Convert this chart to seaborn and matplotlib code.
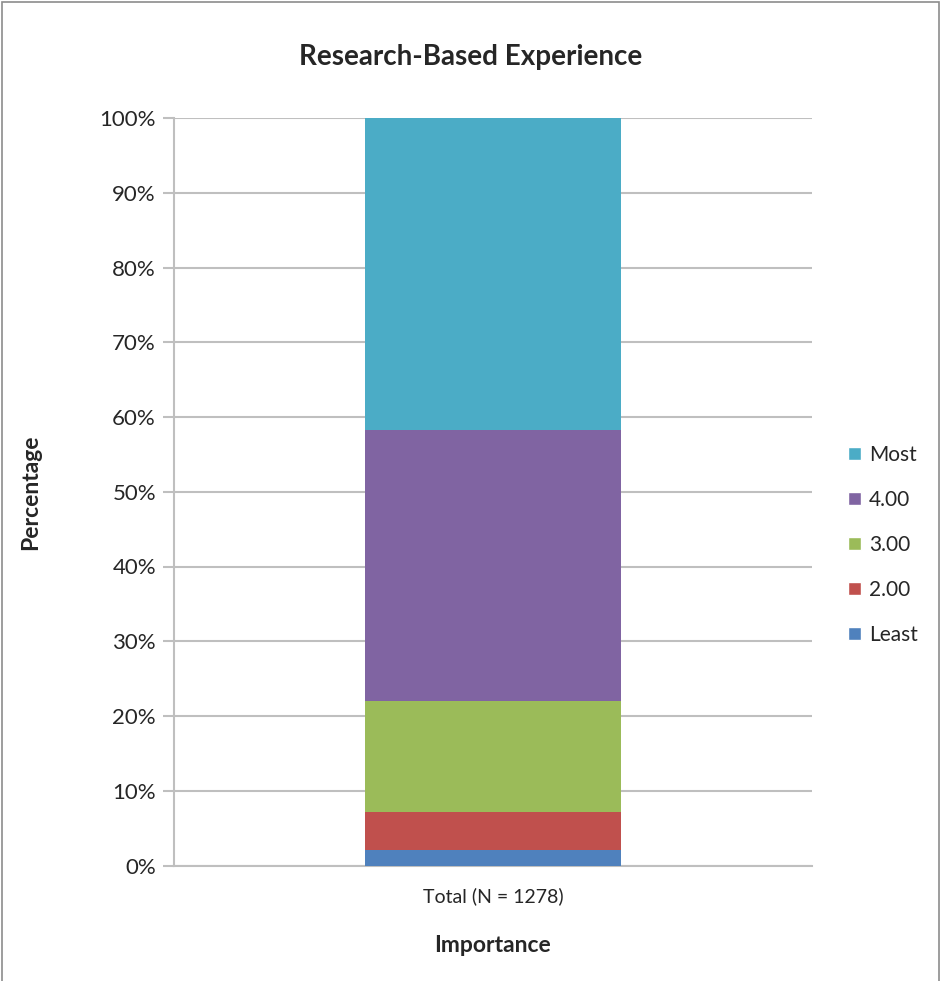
import numpy as np
import matplotlib
matplotlib.use("Agg")
import matplotlib.pyplot as plt
import seaborn as sns
from matplotlib.patches import Patch, Rectangle

# Data (percent of respondents)
category = ["Total (N = 1278)"]
levels = ["Least", "2.00", "3.00", "4.00", "Most"]
shares = [2.1, 5.1, 14.8, 36.2, 41.8]
colors = ["#4f81bd", "#c0504d", "#9bbb59", "#8064a2", "#4bacc6"]

sns.set_theme(style="white")
plt.rcParams["font.family"] = ["Lato", "DejaVu Sans"]

fig = plt.figure(figsize=(9.42, 9.81), dpi=100)
ax = fig.add_axes([174 / 942, 1 - 865.5 / 981, 638 / 942, (865.5 - 118) / 981])

# stacked bar: draw cumulative totals from the tallest down
cum = np.cumsum(shares)
for i in range(len(levels) - 1, -1, -1):
    sns.barplot(x=category, y=[cum[i]], color=colors[i], width=0.4,
                saturation=1, linewidth=0, ax=ax, zorder=3)

ax.set_ylim(0, 100)
ax.set_xlim(-0.5, 0.5)
ax.set_yticks(np.arange(0, 101, 10))
ax.set_yticklabels([f"{v}%" for v in range(0, 101, 10)], fontsize=16)
ax.tick_params(axis="x", labelsize=14, length=0, pad=16)
ax.tick_params(axis="y", length=8, width=1.5, color="#bfbfbf", left=True, pad=5)
ax.yaxis.grid(True, color="#bfbfbf", linewidth=1.5)
ax.set_axisbelow(True)
for s in ["top", "right"]:
    ax.spines[s].set_visible(False)
for s in ["left", "bottom"]:
    ax.spines[s].set_color("#bfbfbf")
    ax.spines[s].set_linewidth(1.5)

ax.set_xlabel("Importance", fontsize=16.5, fontweight="bold", labelpad=21)
ax.set_ylabel("Percentage", fontsize=16.5, fontweight="bold", labelpad=42)

fig.text(0.5, 1 - 57 / 981, "Research-Based Experience", ha="center", va="center",
         fontsize=20, fontweight="bold")

handles = [Patch(facecolor=colors[i], label=levels[i]) for i in range(len(levels) - 1, -1, -1)]
fig.legend(handles=handles, loc="center left", bbox_to_anchor=(848 / 942, 1 - 545 / 981),
           frameon=False, fontsize=15, handlelength=0.6, handleheight=0.6,
           handletextpad=0.4, labelspacing=1.2, borderaxespad=0, borderpad=0)

fig.patches.append(Rectangle((0.002, -0.01), 0.995, 1.008, transform=fig.transFigure,
                             fill=False, edgecolor="#8c8c8c", linewidth=1.2))

fig.savefig("out.png", dpi=100)
